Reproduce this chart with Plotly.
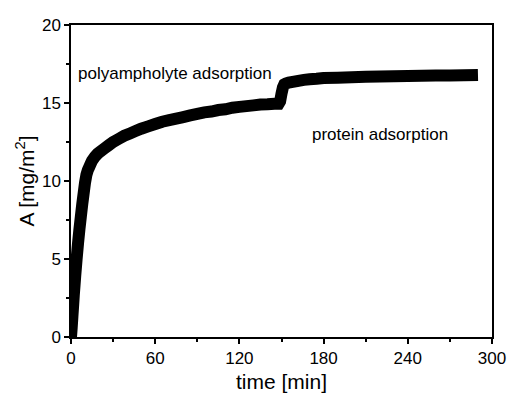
import plotly.graph_objects as go

time_min = [0, 0.5, 1, 1.5, 2, 2.5, 3, 4, 5, 6, 7, 8, 9, 10, 11, 12, 13, 14, 15, 17, 19, 21, 24, 27,
            30, 34, 38, 42, 46, 50, 55, 60, 65, 70, 75, 80, 85, 90, 95, 100, 105, 110, 115, 120,
            125, 130, 135, 140, 145, 148, 149, 150, 151, 152, 153, 155, 158, 162, 166, 170, 175,
            180, 190, 200, 210, 220, 230, 240, 250, 260, 270, 280, 290]
adsorbed = [0, 0.6, 1.3, 2.0, 2.7, 3.3, 3.9, 5.0, 6.0, 6.9, 7.7, 8.5, 9.2, 9.9, 10.4, 10.7, 10.9,
            11.1, 11.3, 11.55, 11.75, 11.9, 12.1, 12.3, 12.5, 12.7, 12.9, 13.05, 13.2, 13.35, 13.5,
            13.65, 13.8, 13.9, 14.0, 14.1, 14.2, 14.3, 14.4, 14.45, 14.55, 14.6, 14.7, 14.75, 14.8,
            14.85, 14.9, 14.92, 14.95, 14.95, 15.1, 15.6, 16.0, 16.2, 16.25, 16.3, 16.35, 16.42,
            16.48, 16.52, 16.55, 16.6, 16.62, 16.65, 16.68, 16.7, 16.72, 16.73, 16.75, 16.76,
            16.77, 16.78, 16.8]

x_ticks = [0, 60, 120, 180, 240, 300]
y_ticks = [0, 5, 10, 15, 20]

labels = ["polyampholyte adsorption", "protein adsorption"]
label_x = [74, 220]
label_y = [16.9, 12.95]

font = "Liberation Sans, Arial, sans-serif"

fig = go.Figure()
fig.add_trace(go.Scatter(x=time_min, y=adsorbed, mode="lines",
                         line=dict(color="black", width=12, simplify=False), showlegend=False))

for t, xx, yy in zip(labels, label_x, label_y):
    fig.add_annotation(x=xx, y=yy, text=t, showarrow=False,
                       font=dict(family=font, size=17, color="black"))

axis_common = dict(showgrid=False, zeroline=False, showline=True, linecolor="black",
                   linewidth=1.5, mirror=True, ticks="outside", ticklen=5, tickwidth=1.5,
                   tickcolor="black", automargin=False,
                   tickfont=dict(family=font, size=17, color="black"))

fig.update_xaxes(range=[0, 300], tickvals=x_ticks,
                 minor=dict(dtick=30, tick0=0, ticks="outside", ticklen=3, tickcolor="black"),
                 title=dict(text="time [min]", font=dict(family=font, size=21, color="black"),
                            standoff=10),
                 **axis_common)
fig.update_yaxes(range=[0, 20], tickvals=y_ticks,
                 minor=dict(dtick=2.5, tick0=0, ticks="outside", ticklen=3, tickcolor="black"),
                 title=dict(text="A [mg/m<sup>2</sup>]", font=dict(family=font, size=21, color="black"),
                            standoff=2),
                 **axis_common)

fig.update_layout(width=509, height=393, margin=dict(l=71, r=17, t=25, b=56),
                  plot_bgcolor="white", paper_bgcolor="white")

fig.write_html("out.html")
